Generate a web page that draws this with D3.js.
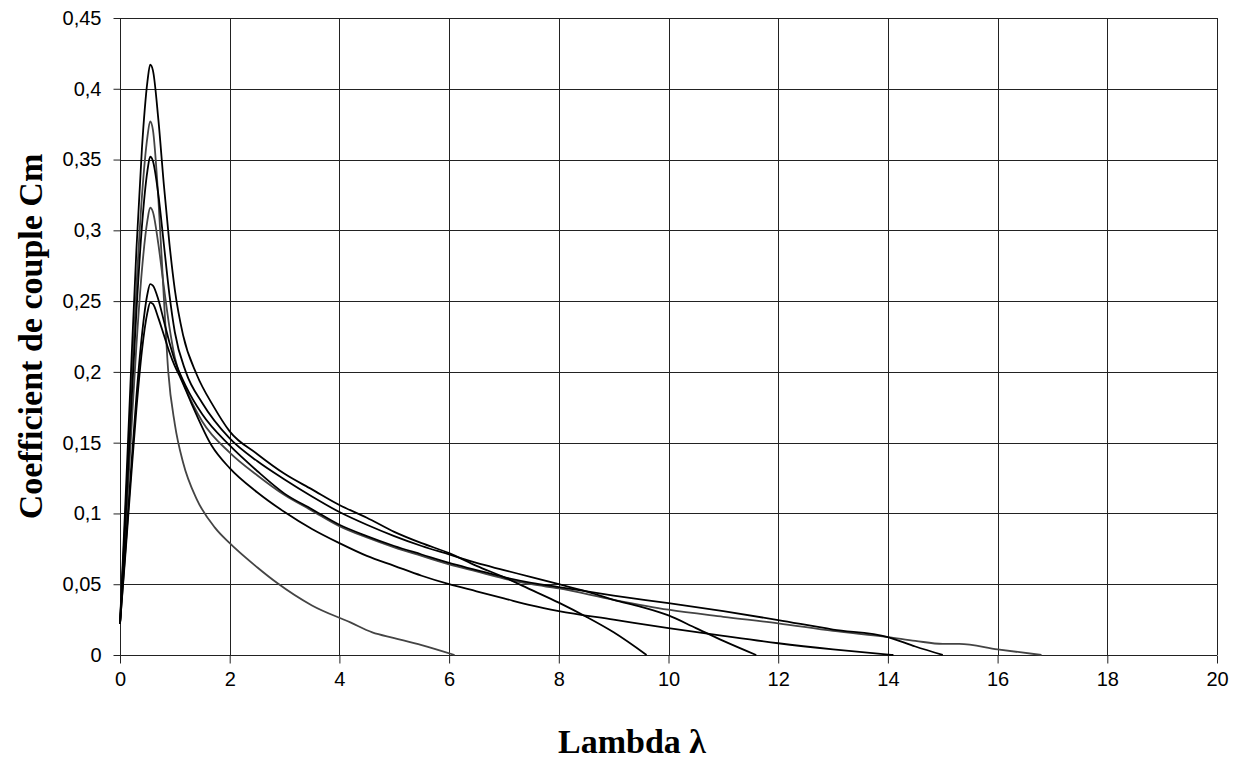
<!DOCTYPE html>
<html>
<head>
<meta charset="utf-8">
<script src="https://cdn.jsdelivr.net/npm/d3@7"></script>
<style>
  html, body { margin: 0; padding: 0; background: #fff; }
  svg { display: block; }
</style>
</head>
<body>
<svg id="chart" width="1247" height="766"></svg>
<script>
// ---- data ----
const xTicks = [0, 2, 4, 6, 8, 10, 12, 14, 16, 18, 20];
const yTicks = [0, 0.05, 0.1, 0.15, 0.2, 0.25, 0.3, 0.35, 0.4, 0.45];
const xTitle = "Lambda λ";
const yTitle = "Coefficient de couple Cm";

const curveB = [[0,0.022],[0.1,0.109],[0.2,0.200],[0.3,0.287],[0.4,0.358],[0.5,0.405],[0.55,0.417],[0.6,0.413],[0.7,0.378],[0.8,0.332],[0.9,0.291],[1.0,0.258],[1.15,0.226],[1.4,0.198],[1.7,0.176],[2,0.158],[2.5,0.142],[3,0.128],[3.5,0.117],[4,0.106],[4.5,0.097],[5,0.087],[5.5,0.079],[6,0.072],[6.5,0.063],[7,0.055],[7.5,0.046],[8,0.037],[8.5,0.027],[9,0.016],[9.6,0]];
const curveA = [[0,0.022],[0.1,0.100],[0.2,0.182],[0.3,0.260],[0.4,0.324],[0.5,0.366],[0.55,0.377],[0.6,0.371],[0.7,0.322],[0.8,0.252],[0.88,0.200],[1.0,0.163],[1.15,0.136],[1.4,0.110],[1.73,0.090],[2,0.079],[2.5,0.062],[2.86,0.051],[3.5,0.035],[4.2,0.023],[4.6,0.016],[5,0.012],[5.5,0.007],[6.1,0]];
const curveC = [[0,0.022],[0.1,0.095],[0.2,0.171],[0.3,0.243],[0.4,0.303],[0.5,0.342],[0.55,0.352],[0.6,0.349],[0.7,0.325],[0.8,0.290],[0.9,0.255],[1.0,0.228],[1.2,0.200],[1.5,0.178],[2,0.153],[2.5,0.137],[3,0.124],[3.5,0.112],[4,0.101],[4.5,0.092],[5,0.084],[5.5,0.077],[6,0.071],[6.5,0.065],[7,0.060],[7.5,0.055],[8,0.050],[8.5,0.045],[9,0.039],[9.5,0.034],[10,0.028],[10.5,0.019],[11,0.010],[11.6,0]];
const curveF = [[0,0.022],[0.1,0.087],[0.2,0.154],[0.3,0.219],[0.4,0.272],[0.5,0.307],[0.55,0.316],[0.6,0.313],[0.7,0.290],[0.8,0.260],[0.9,0.232],[1.0,0.210],[1.2,0.188],[1.5,0.165],[2,0.143],[2.5,0.127],[3,0.113],[3.5,0.102],[4,0.091],[4.5,0.083],[5,0.076],[5.5,0.070],[6,0.064],[6.5,0.059],[7,0.054],[7.5,0.050],[8,0.047],[9,0.039],[10,0.032],[11,0.027],[12,0.0224],[13,0.017],[14,0.0127],[14.5,0.010],[15,0.0078],[15.3,0.0078],[16,0.004],[16.8,0]];
const curveE = [[0,0.022],[0.1,0.075],[0.2,0.130],[0.3,0.183],[0.4,0.226],[0.5,0.255],[0.55,0.262],[0.6,0.261],[0.7,0.251],[0.8,0.236],[0.9,0.221],[1.0,0.208],[1.2,0.190],[1.5,0.170],[2,0.148],[2.5,0.130],[3,0.114],[3.5,0.103],[4,0.092],[4.5,0.084],[5,0.077],[5.5,0.071],[6,0.065],[6.5,0.060],[7,0.055],[7.5,0.051],[8,0.048],[9,0.042],[10,0.0366],[11,0.031],[12,0.0247],[13,0.018],[14,0.0127],[14.5,0.006],[15,0]];
const curveD = [[0,0.022],[0.1,0.072],[0.2,0.124],[0.3,0.174],[0.4,0.215],[0.5,0.242],[0.55,0.249],[0.6,0.248],[0.7,0.238],[0.8,0.226],[0.9,0.214],[1.0,0.204],[1.1,0.196],[1.3,0.178],[1.67,0.148],[2,0.132],[2.5,0.115],[3,0.101],[3.5,0.089],[4,0.079],[4.5,0.070],[5,0.063],[5.5,0.056],[6,0.050],[6.5,0.045],[7,0.040],[7.5,0.035],[8,0.031],[9,0.025],[10,0.019],[11,0.0135],[12,0.0083],[13,0.004],[14.1,0]];

const seriesList = [
  { name: "A", points: curveA, gray: true },
  { name: "F", points: curveF, gray: true },
  { name: "D", points: curveD, gray: false },
  { name: "E", points: curveE, gray: false },
  { name: "C", points: curveC, gray: false },
  { name: "B", points: curveB, gray: false }
];

// ---- layout ----
const W = 1247, H = 766;
const m = { left: 120, right: 30, top: 18, bottom: 111 };
const svg = d3.select("#chart");
const x = d3.scaleLinear().domain([0, 20]).range([m.left, W - m.right]);
const y = d3.scaleLinear().domain([0, 0.45]).range([H - m.bottom, m.top]);
const fmt = d => String(d).replace(".", ",");

// grid
const g = svg.append("g");
g.selectAll(".hg").data(yTicks).join("line")
  .attr("x1", x(0)).attr("x2", x(20))
  .attr("y1", d => Math.round(y(d)) + 0.5).attr("y2", d => Math.round(y(d)) + 0.5)
  .attr("stroke", "#222").attr("stroke-width", 1);
g.selectAll(".vg").data(xTicks).join("line")
  .attr("y1", y(0)).attr("y2", y(0.45))
  .attr("x1", d => Math.round(x(d)) + 0.5).attr("x2", d => Math.round(x(d)) + 0.5)
  .attr("stroke", "#222").attr("stroke-width", 1);

// axes
const xAxis = d3.axisBottom(x).tickValues(xTicks).tickSize(8).tickPadding(8).tickFormat(fmt);
const yAxis = d3.axisLeft(y).tickValues(yTicks).tickSize(7).tickPadding(12).tickFormat(fmt);
const gx = svg.append("g").attr("transform", `translate(0,${Math.round(y(0)) + 0.5})`).call(xAxis);
const gy = svg.append("g").attr("transform", `translate(${Math.round(x(0)) + 0.5},0)`).call(yAxis);
[gx, gy].forEach(a => {
  a.selectAll("path,line").attr("stroke", "#222").attr("stroke-width", 1);
  a.selectAll("text").attr("font-family", "Liberation Sans, Arial, sans-serif")
    .attr("font-size", 20).attr("fill", "#000");
  a.select(".domain").remove();
});

// lines
const line = d3.line().x(d => x(d[0])).y(d => y(d[1])).curve(d3.curveMonotoneX);
svg.append("g").selectAll("path").data(seriesList).join("path")
  .attr("d", d => line(d.points))
  .attr("fill", "none")
  .attr("stroke", d => d.gray ? "#444" : "#000")
  .attr("stroke-width", 1.8)
  .attr("stroke-linejoin", "round");

// titles
svg.append("text")
  .attr("x", 632).attr("y", 753)
  .attr("text-anchor", "middle")
  .attr("font-family", "Liberation Serif, Times New Roman, serif")
  .attr("font-weight", "bold").attr("font-size", 34)
  .text(xTitle);
svg.append("text")
  .attr("transform", `translate(42,${(y(0) + y(0.45)) / 2}) rotate(-90)`)
  .attr("text-anchor", "middle")
  .attr("font-family", "Liberation Serif, Times New Roman, serif")
  .attr("font-weight", "bold").attr("font-size", 34)
  .text(yTitle);
</script>
</body>
</html>
